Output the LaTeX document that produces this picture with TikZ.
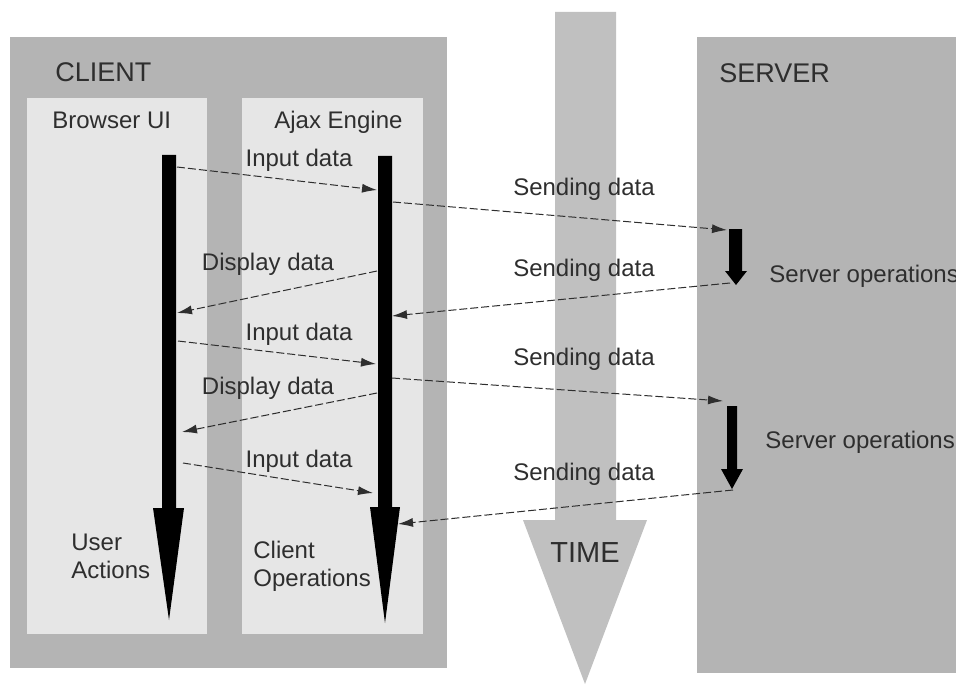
\documentclass[tikz,border=0pt]{standalone}
\usepackage{fontspec}
\setmainfont{Liberation Sans}
\usetikzlibrary{arrows.meta, positioning}

\definecolor{boxgray}{HTML}{B4B4B4}
\definecolor{lanegray}{HTML}{E6E6E6}
\definecolor{timegray}{HTML}{C0C0C0}
\definecolor{inkgray}{HTML}{2E2E2E}

\tikzset{
    msgtext/.style={font=\fontsize{12}{14}\selectfont, text=inkgray, inner sep=0pt, anchor=base},
    sidetext/.style={font=\fontsize{12}{14}\selectfont, text=inkgray, inner sep=0pt, anchor=base west, align=left},
    titletext/.style={font=\fontsize{13.5}{16}\selectfont, text=inkgray, inner sep=0pt, anchor=base west},
    msg/.style={->, draw=inkgray, line width=0.5pt, dash pattern=on 4pt off 1.5pt},
    lane/.style={fill=lanegray, draw=none},
}

\begin{document}
\begin{tikzpicture}[x=0.5pt, y=-0.5pt, >={Latex[length=7.5pt,width=4.5pt]}]

    \fill[white] (0,0) rectangle (956,684);
    \useasboundingbox (0,0) rectangle (956,684);

    % client side
    \fill[boxgray] (10,37) rectangle (447,668);
    \fill[lane] (27,98) rectangle (207,634);
    \fill[lane] (242,98) rectangle (423,634);

    % time
    \fill[timegray] (555,12) -- (616,12) -- (616,520) -- (647,520) -- (585,684) -- (523,520) -- (555,520) -- cycle;

    % server side
    \fill[boxgray] (697,37) rectangle (960,673);

    % lifelines
    \fill[black] (162,155) -- (176,155) -- (176,508) -- (184,508) -- (169,620) -- (153,508) -- (162,508) -- cycle;
    \fill[black] (378,156) -- (392,156) -- (392,507) -- (400,507) -- (385,623) -- (370,507) -- (378,507) -- cycle;
    \fill[black] (729,229) -- (742,229) -- (742,271) -- (747,271) -- (736,285) -- (725,271) -- (729,271) -- cycle;
    \fill[black] (727,406) -- (737,406) -- (737,469) -- (743,469) -- (732,489) -- (721,469) -- (727,469) -- cycle;

    % end points of the messages
    \coordinate (ui1) at (177,167);
    \coordinate (ui2) at (177,313);
    \coordinate (ui3) at (178,341);
    \coordinate (ui4) at (182,432);
    \coordinate (ui5) at (183,463);

    \coordinate (eng1) at (377,190);
    \coordinate (eng2) at (393,202);
    \coordinate (eng3) at (377,271);
    \coordinate (eng4) at (392,316);
    \coordinate (eng5) at (376,364);
    \coordinate (eng6) at (392,378);
    \coordinate (eng7) at (377,393);
    \coordinate (eng8) at (373,493);
    \coordinate (eng9) at (398,524);

    \coordinate (srv1) at (727,230);
    \coordinate (srv2) at (730,283);
    \coordinate (srv3) at (723,401);
    \coordinate (srv4) at (733,490);

    \draw[msg] (ui1) -- (eng1);
    \draw[msg] (eng2) -- (srv1);
    \draw[msg] (eng3) -- (ui2);
    \draw[msg] (srv2) -- (eng4);
    \draw[msg] (ui3) -- (eng5);
    \draw[msg] (eng6) -- (srv3);
    \draw[msg] (eng7) -- (ui4);
    \draw[msg] (ui5) -- (eng8);
    \draw[msg] (srv4) -- (eng9);

    % titles
    \node[titletext] (client) at (55,82) {CLIENT};
    \node[titletext] (server) at (719,83) {SERVER};
    \node[sidetext] (browser) at (52,129) {Browser UI};
    \node[sidetext] (engine) at (274,129) {Ajax Engine};
    \node[msgtext, font=\fontsize{14.5}{16}\selectfont] (time) at (585,562) {TIME};

    % message labels
    \node[msgtext] (in1) at (299,167) {Input data};
    \node[msgtext] (send1) at (584,195) {Sending data};
    \node[msgtext] (disp1) at (268,270) {Display data};
    \node[msgtext] (send2) at (584,276) {Sending data};
    \node[msgtext] (in2) at (299,340) {Input data};
    \node[msgtext] (send3) at (584,365) {Sending data};
    \node[msgtext] (disp2) at (268,394) {Display data};
    \node[msgtext] (in3) at (299,467) {Input data};
    \node[msgtext] (send4) at (584,480) {Sending data};

    % lane captions
    \node[sidetext] (srvop1) at (769,282) {Server operations};
    \node[sidetext] (srvop2) at (765,448) {Server operations};
    \node[sidetext] (user) at (71,578) {User\\Actions};
    \node[sidetext] (clientop) at (253,586) {Client\\Operations};

\end{tikzpicture}
\end{document}
